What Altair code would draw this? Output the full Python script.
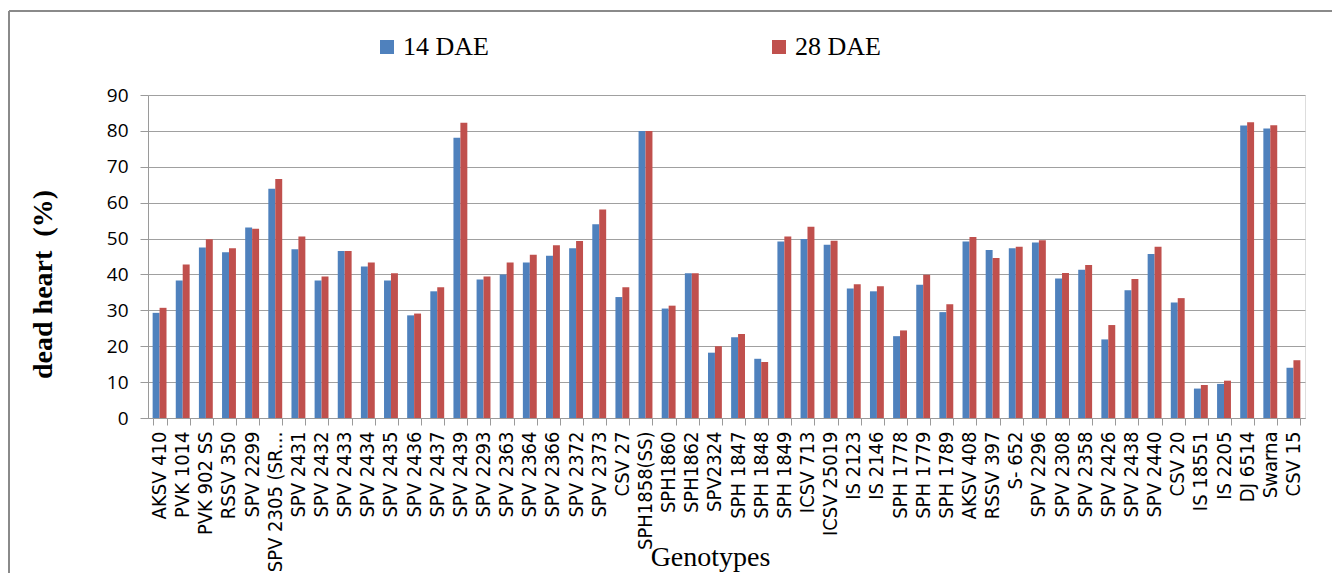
import altair as alt
import pandas as pd

genotypes = [
    "AKSV 410", "PVK 1014", "PVK 902  SS", "RSSV 350", "SPV 2299", "SPV 2305 (SR\u2026",
    "SPV 2431", "SPV 2432", "SPV 2433", "SPV 2434", "SPV 2435", "SPV 2436",
    "SPV 2437", "SPV 2439", "SPV 2293", "SPV 2363", "SPV 2364", "SPV 2366",
    "SPV 2372", "SPV 2373", "CSV 27", "SPH1858(SS)", "SPH1860", "SPH1862",
    "SPV2324", "SPH 1847", "SPH 1848", "SPH 1849", "ICSV 713", "ICSV 25019",
    "IS 2123", "IS 2146", "SPH 1778", "SPH 1779", "SPH 1789", "AKSV 408",
    "RSSV 397", "S- 652", "SPV 2296", "SPV 2308", "SPV 2358", "SPV 2426",
    "SPV 2438", "SPV 2440", "CSV 20", "IS 18551", "IS 2205", "DJ 6514",
    "Swarna", "CSV 15",
]

dae14 = [
    29.3, 38.3, 47.5, 46.2, 53.1, 63.9, 47.0, 38.3, 46.5, 42.2, 38.3, 28.6,
    35.3, 78.1, 38.6, 40.0, 43.3, 45.2, 47.3, 54.0, 33.7, 80.0, 30.5, 40.3,
    18.2, 22.5, 16.5, 49.2, 49.9, 48.3, 36.1, 35.3, 22.8, 37.1, 29.5, 49.2,
    46.8, 47.3, 48.9, 38.9, 41.3, 21.9, 35.6, 45.7, 32.2, 8.2, 9.5, 81.5,
    80.7, 14.0,
]

dae28 = [
    30.7, 42.8, 49.8, 47.3, 52.7, 66.6, 50.6, 39.4, 46.5, 43.3, 40.3, 29.1,
    36.4, 82.3, 39.4, 43.3, 45.5, 48.1, 49.3, 58.1, 36.4, 80.0, 31.3, 40.3,
    20.0, 23.4, 15.6, 50.6, 53.3, 49.4, 37.3, 36.7, 24.4, 39.9, 31.7, 50.4,
    44.6, 47.7, 49.5, 40.4, 42.6, 25.9, 38.7, 47.7, 33.4, 9.2, 10.4, 82.4,
    81.6, 16.1,
]

series_names = ["14 DAE", "28 DAE"]
series_colors = ["#4F81BD", "#C0504D"]
y_ticks = [0, 10, 20, 30, 40, 50, 60, 70, 80, 90]

rows = []
for g, a, b in zip(genotypes, dae14, dae28):
    rows.append({"genotype": g, "series": series_names[0], "value": a})
    rows.append({"genotype": g, "series": series_names[1], "value": b})
df = pd.DataFrame(rows)

bars = alt.Chart(df).mark_bar().encode(
    x=alt.X(
        "genotype:N",
        sort=genotypes,
        title="Genotypes",
        scale=alt.Scale(paddingInner=0.4, paddingOuter=0.2),
        axis=alt.Axis(
            labelAngle=-90,
            labelAlign="right",
            labelBaseline="middle",
            labelFont="DejaVu Sans Condensed, sans-serif",
            labelFontSize=20,
            labelColor="#000000",
            labelPadding=6,
            labelLimit=250,
            tickSize=7,
            tickBand="extent",
            tickColor="#9a9a9a",
            domainColor="#9a9a9a",
            grid=False,
            titleFont="Liberation Serif",
            titleFontSize=28,
            titleFontWeight="normal",
            titleColor="#000000",
            titleX=562,
            titleY=147,
            titleAlign="center",
            titleBaseline="alphabetic",
        ),
    ),
    xOffset=alt.XOffset("series:N", sort=series_names),
    y=alt.Y(
        "value:Q",
        title="dead heart\u00a0 (%)",
        scale=alt.Scale(domain=[0, 90], nice=False),
        axis=alt.Axis(
            values=y_ticks,
            labelFont="Open Sans",
            labelFontSize=19,
            labelColor="#000000",
            labelPadding=12,
            tickSize=8,
            tickColor="#9a9a9a",
            domainColor="#9a9a9a",
            gridColor="#a0a0a0",
            titleFont="Liberation Serif",
            titleFontSize=28,
            titleFontWeight="bold",
            titleColor="#000000",
            titleAngle=270,
            titleAlign="center",
            titleBaseline="middle",
            titleX=-105,
            titleY=189,
        ),
    ),
    color=alt.Color(
        "series:N",
        scale=alt.Scale(domain=series_names, range=series_colors),
        legend=alt.Legend(
            title=None,
            orient="none",
            legendX=226,
            legendY=-61,
            direction="horizontal",
            symbolType="square",
            symbolSize=196,
            symbolStrokeWidth=0,
            labelFont="Liberation Serif",
            labelFontSize=26,
            labelColor="#000000",
            labelOffset=3,
            columnPadding=277,
            padding=0,
        ),
    ),
)

frame_df = pd.DataFrame({"k": [0]})
frame_left = alt.Chart(frame_df).mark_rule(color="#8a8a8a", strokeWidth=2).encode(
    x=alt.value(-139), y=alt.value(-84), y2=alt.value(520)
)
frame_top = alt.Chart(frame_df).mark_rule(color="#8a8a8a", strokeWidth=2).encode(
    x=alt.value(-139), x2=alt.value(1250), y=alt.value(-84)
)

chart = alt.layer(bars, frame_left, frame_top).properties(
    width=1157,
    height=323,
    autosize=alt.AutoSizeParams(type="none"),
    padding={"left": 140, "top": 87, "right": 27, "bottom": 155},
).configure_view(stroke=None).configure(background="white")

chart.save("out.html", embed_options={"renderer": "svg", "actions": False})
